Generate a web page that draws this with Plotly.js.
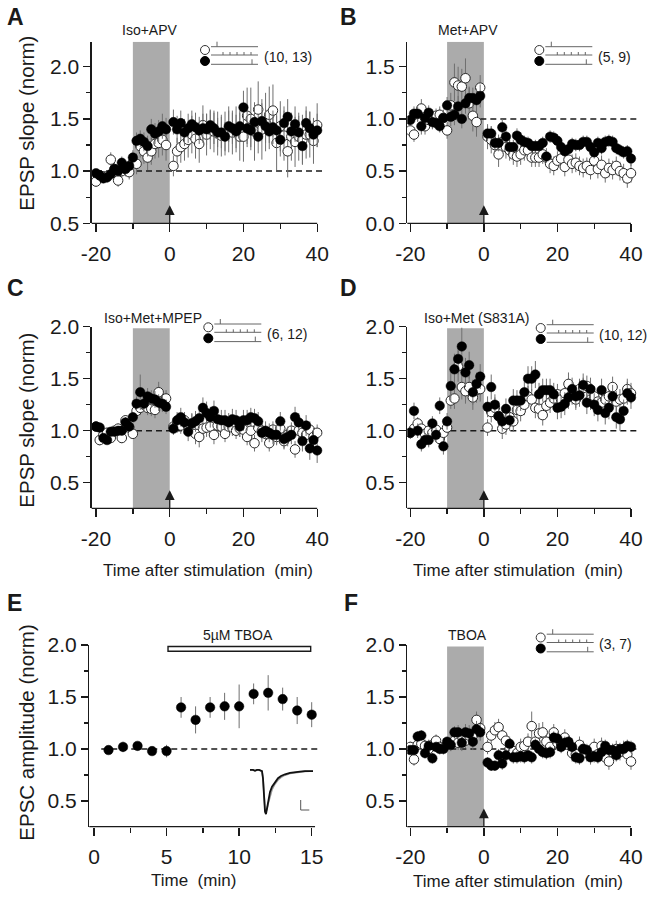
<!DOCTYPE html>
<html><head><meta charset="utf-8">
<script src="https://cdn.plot.ly/plotly-3.0.1.min.js"></script>
<style>html,body{margin:0;padding:0;background:#fff}#chart{width:647px;height:899px}</style>
</head><body><div id="chart"></div>
<script>
// ---------------- data ----------------
const minutes = [-20,-19,-18,-17,-16,-15,-14,-13,-12,-11,-10,-9,-8,-7,-6,-5,-4,-3,-2,-1,
  1,2,3,4,5,6,7,8,9,10,11,12,13,14,15,16,17,18,19,20,21,22,23,24,25,26,27,28,29,30,31,32,33,34,35,36,37,38,39,40];

// Panel A: Iso+APV
const aOpen = [0.90,0.96,0.95,0.95,1.11,1.02,0.91,1.00,1.02,0.99, 1.08,1.07,1.24,1.19,1.13,1.19,1.26,1.27,1.30,1.25,
  1.05,1.19,1.23,1.26,1.30,1.35,1.31,1.26,1.44,1.35, 1.40,1.38,1.36,1.34,1.36,1.40,1.37,1.40,1.33,1.33,
  1.53,1.50,1.38,1.59,1.40,1.47,1.54,1.58,1.27,1.43, 1.34,1.19,1.33,1.28,1.33,1.30,1.35,1.35,1.29,1.44];
const aOpenErr = [0.05,0.05,0.05,0.06,0.07,0.06,0.06,0.06,0.07,0.07, 0.08,0.10,0.11,0.12,0.12,0.13,0.14,0.14,0.15,0.15,
  0.10,0.13,0.15,0.16,0.17,0.18,0.19,0.18,0.19,0.20, 0.19,0.20,0.21,0.20,0.21,0.22,0.21,0.22,0.23,0.24,
  0.27,0.30,0.28,0.27,0.29,0.28,0.27,0.25,0.26,0.24, 0.24,0.25,0.23,0.24,0.23,0.24,0.23,0.22,0.22,0.21];
const aFilled = [0.98,0.96,0.93,0.94,0.97,1.02,1.00,1.08,1.02,1.05, 1.13,1.29,1.31,1.28,1.24,1.40,1.36,1.38,1.43,1.40,
  1.47,1.40,1.46,1.37,1.41,1.45,1.42,1.39,1.41,1.40, 1.44,1.41,1.37,1.37,1.33,1.43,1.41,1.38,1.43,1.61,
  1.41,1.39,1.47,1.33,1.48,1.43,1.38,1.42,1.39,1.30, 1.46,1.52,1.38,1.45,1.37,1.24,1.46,1.41,1.35,1.39];
const aFilledErr = [0.04,0.05,0.04,0.04,0.05,0.05,0.05,0.06,0.05,0.06, 0.07,0.08,0.08,0.09,0.10,0.10,0.10,0.11,0.12,0.11,
  0.12,0.13,0.12,0.13,0.14,0.13,0.14,0.13,0.14,0.15, 0.14,0.15,0.14,0.15,0.14,0.15,0.15,0.16,0.15,0.16,
  0.18,0.16,0.17,0.16,0.17,0.16,0.17,0.16,0.17,0.16, 0.16,0.17,0.16,0.17,0.16,0.17,0.16,0.16,0.15,0.16];

// Panel B: Met+APV
const bOpen = [0.89,0.85,1.05,1.10,0.93,0.99,0.98,1.03,1.04,1.01, 0.89,1.13,1.35,1.32,1.31,1.39,1.15,1.03,0.97,1.30,
  0.83,0.80,0.75,0.66,0.78,0.73,0.70,0.66,0.64,0.66, 0.70,0.70,0.63,0.63,0.63,0.66,0.63,0.57,0.55,0.60,
  0.62,0.54,0.61,0.57,0.58,0.55,0.53,0.55,0.51,0.60, 0.52,0.56,0.48,0.53,0.51,0.55,0.50,0.48,0.43,0.48];
const bOpenErr = [0.06,0.07,0.08,0.09,0.08,0.08,0.08,0.07,0.08,0.08, 0.08,0.12,0.18,0.18,0.17,0.19,0.16,0.15,0.14,0.12,
  0.12,0.13,0.12,0.12,0.11,0.11,0.10,0.10,0.10,0.10, 0.10,0.10,0.09,0.09,0.09,0.09,0.09,0.09,0.09,0.09,
  0.09,0.09,0.09,0.09,0.09,0.09,0.09,0.08,0.09,0.09, 0.09,0.09,0.09,0.09,0.09,0.09,0.09,0.09,0.09,0.09];
const bFilled = [0.99,1.05,1.05,0.93,1.01,1.06,0.97,0.96,0.93,1.01, 1.13,1.02,1.04,1.12,1.00,1.15,1.20,1.20,1.18,1.22,
  0.86,0.86,0.77,0.77,0.92,0.83,0.73,0.73,0.84,0.80, 0.78,0.77,0.74,0.74,0.74,0.77,0.64,0.83,0.82,0.79,
  0.73,0.69,0.71,0.76,0.75,0.75,0.78,0.78,0.73,0.68, 0.77,0.72,0.78,0.79,0.78,0.72,0.70,0.68,0.69,0.62];
const bFilledErr = [0.06,0.07,0.07,0.08,0.07,0.07,0.06,0.06,0.06,0.07, 0.08,0.09,0.10,0.10,0.09,0.10,0.10,0.10,0.11,0.11,
  0.07,0.07,0.07,0.08,0.08,0.08,0.07,0.07,0.07,0.07, 0.06,0.06,0.06,0.06,0.06,0.06,0.06,0.06,0.06,0.06,
  0.06,0.06,0.06,0.06,0.06,0.06,0.06,0.06,0.06,0.06, 0.06,0.06,0.06,0.06,0.06,0.06,0.06,0.06,0.06,0.07];

// Panel C: Iso+Met+MPEP
const cOpen = [1.04,0.91,0.96,0.98,0.93,1.00,1.02,0.93,1.10,1.03, 0.97,1.19,1.22,1.25,1.22,1.21,1.20,1.37,1.28,1.31,
  1.04,1.06,1.05,1.10,1.04,1.07,0.97,0.94,1.02,1.03, 1.04,0.96,1.05,1.04,0.97,1.04,1.03,1.00,1.02,1.01,
  0.94,1.00,0.88,1.03,1.00,0.97,0.88,1.01,0.94,1.02, 0.90,0.96,1.00,0.82,1.00,0.98,0.96,1.01,0.94,0.98];
const cOpenErr = [0.05,0.05,0.05,0.05,0.05,0.05,0.05,0.05,0.05,0.05, 0.05,0.06,0.07,0.07,0.07,0.07,0.08,0.10,0.08,0.08,
  0.07,0.08,0.08,0.08,0.09,0.09,0.10,0.10,0.09,0.09, 0.09,0.09,0.09,0.09,0.08,0.08,0.08,0.08,0.08,0.08,
  0.08,0.08,0.08,0.08,0.08,0.08,0.08,0.08,0.08,0.08, 0.08,0.08,0.08,0.08,0.08,0.08,0.08,0.08,0.08,0.08];
const cFilled = [1.04,1.03,0.93,0.91,0.99,0.99,1.00,1.00,1.08,1.04, 1.13,1.26,1.37,1.26,1.33,1.31,1.30,1.27,1.26,1.23,
  1.02,1.10,1.13,1.08,0.99,1.07,1.09,1.12,1.22,1.17, 1.13,1.19,1.11,1.10,1.10,1.08,1.11,1.10,1.04,1.10,
  1.10,1.13,1.12,1.09,0.98,1.00,0.98,0.96,0.96,1.09, 0.92,0.94,0.96,1.13,1.08,0.90,1.05,0.83,0.91,0.81];
const cFilledErr = [0.04,0.05,0.04,0.04,0.04,0.04,0.04,0.04,0.05,0.05, 0.05,0.07,0.17,0.08,0.08,0.08,0.08,0.08,0.08,0.07,
  0.06,0.08,0.09,0.08,0.09,0.10,0.10,0.10,0.10,0.11, 0.10,0.10,0.10,0.10,0.10,0.09,0.10,0.10,0.10,0.10,
  0.10,0.09,0.09,0.09,0.09,0.09,0.09,0.09,0.09,0.09, 0.09,0.09,0.09,0.10,0.09,0.10,0.10,0.11,0.12,0.12];

// Panel D: Iso+Met (S831A)
const dOpen = [0.98,1.02,1.07,1.02,0.97,1.00,0.98,1.01,0.92,0.98, 1.03,1.29,1.31,1.62,1.42,1.38,1.42,1.32,1.39,1.40,
  1.03,1.18,1.22,1.14,1.02,1.06,1.13,1.09,1.20,1.19, 1.25,1.33,1.30,1.22,1.21,1.15,1.24,1.27,1.31,1.35,
  1.30,1.36,1.45,1.35,1.30,1.40,1.41,1.43,1.30,1.33, 1.28,1.27,1.30,1.33,1.42,1.28,1.30,1.31,1.40,1.36];
const dOpenErr = [0.05,0.06,0.06,0.06,0.06,0.06,0.06,0.06,0.06,0.06, 0.06,0.08,0.10,0.15,0.12,0.12,0.12,0.12,0.12,0.12,
  0.08,0.10,0.10,0.10,0.10,0.10,0.10,0.10,0.10,0.10, 0.10,0.10,0.10,0.10,0.10,0.10,0.10,0.10,0.10,0.10,
  0.10,0.10,0.11,0.10,0.10,0.10,0.10,0.10,0.10,0.10, 0.10,0.10,0.10,0.10,0.10,0.10,0.10,0.10,0.10,0.10];
const dFilled = [0.98,1.19,1.00,0.87,0.91,0.91,1.07,0.96,1.24,0.85, 1.09,1.43,1.59,1.69,1.81,1.56,1.63,1.37,1.45,1.52,
  1.23,1.42,1.25,1.14,1.09,1.21,1.10,1.29,1.29,1.29, 1.37,1.50,1.50,1.54,1.35,1.39,1.39,1.39,1.35,1.22,
  1.23,1.26,1.32,1.40,1.33,1.34,1.44,1.27,1.40,1.25, 1.20,1.39,1.17,1.22,1.33,1.13,1.11,1.19,1.36,1.32];
const dFilledErr = [0.06,0.08,0.07,0.07,0.07,0.07,0.07,0.07,0.08,0.08, 0.08,0.15,0.15,0.15,0.18,0.14,0.13,0.12,0.11,0.12,
  0.10,0.12,0.10,0.10,0.10,0.10,0.10,0.11,0.10,0.10, 0.10,0.12,0.12,0.13,0.11,0.11,0.11,0.11,0.11,0.11,
  0.11,0.11,0.11,0.11,0.11,0.11,0.11,0.11,0.11,0.11, 0.11,0.11,0.11,0.11,0.11,0.11,0.11,0.11,0.11,0.11];

// Panel E: 5µM TBOA, EPSC amplitude
const eMinutes = [1,2,3,4,5,6,7,8,9,10,11,12,13,14,15];
const eAmp = [0.99,1.02,1.03,0.98,0.98,1.40,1.28,1.40,1.41,1.41,1.53,1.54,1.48,1.37,1.33];
const eErr = [0.03,0.05,0.02,0.04,0.06,0.10,0.13,0.10,0.13,0.21,0.10,0.17,0.11,0.13,0.12];
// Inset EPSC traces (ms, normalised current)
const insetMs = [0,3,5,7,9,11,12,13,14,15,16,17,18,20,22,25,28,31,35,40,45,50,55,60,63];
const insetBaseline = [0,0,-2,0,0,-2,-3,-20,-65,-95,-100,-88,-70,-50,-38,-27,-19,-14,-10,-7,-5,-4,-3,-3,-3];
const insetTBOA = [0,0,-2,0,0,-2,-3,-18,-60,-88,-93,-90,-78,-58,-45,-32,-23,-17,-12,-8,-6,-4.5,-3.5,-3,-3];

// Panel F: TBOA
const fOpen = [1.02,0.90,1.04,1.05,1.03,1.00,1.04,1.08,1.02,1.01, 1.04,1.05,1.08,1.06,1.12,1.08,1.13,1.13,1.28,1.20,
  1.02,1.13,1.18,1.21,1.13,1.08,1.00,0.98,0.96,1.02, 1.03,1.07,1.22,1.07,1.15,1.16,1.07,1.02,1.16,1.06,
  1.05,1.11,1.04,0.96,0.95,1.04,1.00,0.96,0.93,1.02, 0.95,1.03,0.92,0.88,0.97,1.00,0.97,1.00,0.95,0.88];
const fOpenErr = [0.05,0.06,0.06,0.06,0.06,0.06,0.06,0.06,0.06,0.06, 0.06,0.07,0.07,0.07,0.07,0.07,0.07,0.07,0.08,0.08,
  0.07,0.08,0.08,0.08,0.08,0.08,0.08,0.08,0.08,0.08, 0.08,0.08,0.14,0.10,0.10,0.10,0.10,0.08,0.08,0.08,
  0.08,0.08,0.08,0.08,0.08,0.08,0.08,0.08,0.08,0.08, 0.08,0.08,0.08,0.08,0.08,0.08,0.08,0.08,0.08,0.08];
const fFilled = [0.99,0.99,1.12,1.13,0.96,1.03,0.91,1.02,1.00,1.00, 1.07,1.04,1.16,1.16,1.06,1.16,1.15,1.07,1.19,1.16,
  0.87,0.84,0.84,0.94,0.86,0.94,1.05,0.92,0.92,0.93, 0.92,0.94,0.92,1.04,1.00,0.97,0.96,0.97,1.11,1.10,
  1.02,1.06,1.07,1.02,0.92,0.91,1.00,0.99,0.92,0.93, 0.92,0.97,1.03,0.99,0.99,0.94,1.00,1.00,1.03,1.02];
const fFilledErr = [0.04,0.05,0.05,0.05,0.05,0.06,0.05,0.05,0.05,0.05, 0.05,0.06,0.06,0.07,0.08,0.08,0.08,0.08,0.08,0.08,
  0.05,0.05,0.05,0.06,0.06,0.06,0.07,0.06,0.06,0.06, 0.06,0.06,0.06,0.06,0.06,0.06,0.06,0.06,0.06,0.06,
  0.06,0.06,0.06,0.06,0.06,0.06,0.06,0.06,0.06,0.06, 0.06,0.06,0.06,0.06,0.06,0.06,0.06,0.06,0.06,0.06];

// tick labels
const timeTicks = [-20,0,20,40];
const timeTickText = ['-20','0','20','40'];
const timeMinor = [-10,10,30];
const eTicks = [0,5,10,15];
const eMinor = [2.5,7.5,12.5];

// ---------------- layout helpers ----------------
const W = 647, H = 899;
const FONT = 'Liberation Sans, Arial, Helvetica, sans-serif';
const INK = '#1a1a1a';
const px = p => p / W;
const py = p => 1 - p / H;

const panels = [
  {s:'',  box:[91.7,326.2,41.7,223.3],  xr:[-21.17,42.45], yr:[0.5,2.24], yt:[0.5,1,1.5,2], ym:[0.75,1.25,1.75], xEnd:40, box1:2.24},
  {s:'2', box:[407.3,640,41.7,223.3],   xr:[-20.82,42.45], yr:[0,1.74],   yt:[0,0.5,1,1.5], ym:[0.25,0.75,1.25], xEnd:40, box1:1.74},
  {s:'3', box:[91.7,326.2,326.7,508.3], xr:[-21.17,42.45], yr:[0.254,2.0], yt:[0.5,1,1.5,2], ym:[0.75,1.25,1.75], xEnd:40, box1:1.985},
  {s:'4', box:[407.3,640,326.7,508.3],  xr:[-20.82,42.45], yr:[0.254,2.0], yt:[0.5,1,1.5,2], ym:[0.75,1.25,1.75], xEnd:40, box1:1.985},
  {s:'5', box:[89.3,322,645,826.7],     xr:[-0.324,15.71], yr:[0.253,2.0], yt:[0.5,1,1.5,2], ym:[0.75,1.25,1.75], xEnd:15.23, e:true},
  {s:'6', box:[407.3,640,645,826.7],    xr:[-20.82,42.45], yr:[0.253,2.0], yt:[0.5,1,1.5,2], ym:[0.75,1.25,1.75], xEnd:40, box1:1.985}
];

const layout = {
  width: W, height: H, margin:{l:0,r:0,t:0,b:0},
  paper_bgcolor:'#fff', plot_bgcolor:'rgba(0,0,0,0)',
  showlegend:false, font:{family:FONT, color:INK},
  shapes:[], annotations:[]
};

const tickfont = {family:FONT, size:21, color:INK};
panels.forEach(p => {
  const xa = 'xaxis' + p.s, ya = 'yaxis' + p.s;
  layout[xa] = {
    domain:[px(p.box[0]), px(p.box[1])], range:p.xr, anchor:'y'+p.s,
    showline:false, showgrid:false, zeroline:false, fixedrange:true,
    ticks:'outside', ticklen:8, tickwidth:1.3, tickcolor:INK,
    tickmode:'array',
    tickvals: p.e ? eTicks : timeTicks,
    ticktext: p.e ? eTicks.map(String) : timeTickText,
    minor:{tickmode:'array', tickvals: p.e ? eMinor : timeMinor, ticks:'outside', ticklen:5, tickwidth:1.3, tickcolor:INK, showgrid:false},
    tickfont, ticklabelstandoff:3
  };
  layout[ya] = {
    domain:[py(p.box[3]), py(p.box[2])], range:p.yr, anchor:'x'+p.s,
    showline:true, linecolor:INK, linewidth:1.3,
    showgrid:false, zeroline:false, fixedrange:true,
    ticks:'outside', ticklen:7, tickwidth:1.3, tickcolor:INK,
    tickmode:'array', tickvals:p.yt, ticktext:p.yt.map(v => v.toFixed(1)),
    minor:{tickmode:'array', tickvals:p.ym, ticks:'outside', ticklen:4, tickwidth:1.3, tickcolor:INK, showgrid:false},
    tickfont
  };
  const xr = 'x' + p.s, yr = 'y' + p.s;
  const xEndPx = p.box[0] + (p.xEnd - p.xr[0]) / (p.xr[1] - p.xr[0]) * (p.box[1] - p.box[0]);
  layout.shapes.push({type:'line', xref:'paper', yref:'paper', x0:px(p.box[0]), x1:px(xEndPx), y0:py(p.box[3]), y1:py(p.box[3]), line:{color:INK, width:1.3}, layer:'above'});
  if (!p.e) {
    layout.shapes.push({type:'rect', xref:xr, yref:yr, x0:-10, x1:0, y0:p.yr[0], y1:p.box1, fillcolor:'#ababab', line:{width:0}, layer:'below'});
    layout.shapes.push({type:'line', xref:xr, yref:yr, x0:-20, x1:42, y0:1, y1:1, line:{color:INK, width:1.5, dash:'6px,4px'}, layer:'below'});
    // stimulation arrow: shaft + head
    layout.shapes.push({type:'line', xref:xr, yref:yr+' domain', x0:0, x1:0, y0:0, y1:0.085, line:{color:INK, width:1.3}, layer:'above'});
    layout.annotations.push({xref:xr, yref:yr+' domain', x:0, y:0.1, ax:0, ay:8, text:'', font:{size:1}, borderpad:0, showarrow:true, arrowhead:2, arrowsize:1.5, arrowwidth:1.3, arrowcolor:INK, standoff:0});
  } else {
    layout.shapes.push({type:'line', xref:xr, yref:yr, x0:0.5, x1:15.65, y0:1, y1:1, line:{color:INK, width:1.5, dash:'6px,4px'}, layer:'below'});
    layout.shapes.push({type:'rect', xref:xr, yref:yr, x0:5.1, x1:14.93, y0:1.94, y1:1.985, fillcolor:'#fff', line:{color:INK, width:1.4}, layer:'above'});
  }
});

// inset axes for EPSC traces (panel E)
layout.xaxis7 = {domain:[px(248), px(316)], range:[-2,66], anchor:'y7', visible:false, fixedrange:true};
layout.yaxis7 = {domain:[py(818), py(765)], range:[-109,11], anchor:'x7', visible:false, fixedrange:true};
// scale bar
layout.shapes.push({type:'line', xref:'paper', yref:'paper', x0:px(300.7), x1:px(300.7), y0:py(800), y1:py(810), line:{color:'#555', width:1}});
layout.shapes.push({type:'line', xref:'paper', yref:'paper', x0:px(300.7), x1:px(309.3), y0:py(810), y1:py(810), line:{color:'#555', width:1}});

// stimulation-protocol legend glyphs
function legendGlyph(cx, cy, label) {
  const r = 4.5, lc = '#666';
  layout.shapes.push({type:'circle', xref:'paper', yref:'paper', x0:px(cx-r), x1:px(cx+r), y0:py(cy+r), y1:py(cy-r), fillcolor:'#fff', line:{color:'#333', width:1}, layer:'above'});
  layout.shapes.push({type:'circle', xref:'paper', yref:'paper', x0:px(cx-r), x1:px(cx+r), y0:py(cy+11+r), y1:py(cy+11-r), fillcolor:'#000', line:{color:'#000', width:1}, layer:'above'});
  const L = cx + 6, R = cx + 53;
  const seg = (x0,y0,x1,y1) => layout.shapes.push({type:'line', xref:'paper', yref:'paper', x0:px(x0), x1:px(x1), y0:py(y0), y1:py(y1), line:{color:lc, width:1}, layer:'above'});
  seg(L, cy-3.3, R, cy-3.3); seg(cx+12, cy-3.3, cx+12, cy-8.3);
  seg(L, cy+5, R, cy+5);
  [18,25,32,39,46].forEach(d => seg(cx+d, cy+5, cx+d, cy+2));
  seg(L, cy+14.3, R, cy+14.3); seg(cx+47, cy+14.3, cx+47, cy+9.3);
  layout.annotations.push({xref:'paper', yref:'paper', x:px(cx+56.5), y:py(cy+6.5), xanchor:'left', yanchor:'middle', text:label, showarrow:false, font:{family:FONT, size:14, color:INK}});
}
legendGlyph(205, 50, '(10, 13)');
legendGlyph(539.3, 50, '(5, 9)');
legendGlyph(208.3, 327.3, '(6, 12)');
legendGlyph(540.7, 328, '(10, 12)');
legendGlyph(540.7, 637.5, '(3, 7)');

// text annotations
function txt(x, y, t, size, extra) {
  layout.annotations.push(Object.assign({xref:'paper', yref:'paper', x:px(x), y:py(y), xanchor:'center', yanchor:'middle', text:t, showarrow:false, font:{family:FONT, size:size, color:INK}}, extra||{}));
}
txt(15.3, 17.2, '<b>A</b>', 23); txt(348.3, 17.2, '<b>B</b>', 23);
txt(15, 288, '<b>C</b>', 23);     txt(348.3, 288, '<b>D</b>', 23);
txt(14.5, 603.3, '<b>E</b>', 23); txt(350.5, 603.3, '<b>F</b>', 23);
txt(150, 30, 'Iso+APV', 14);
txt(468, 30, 'Met+APV', 14);
txt(152.5, 318.3, 'Iso+Met+MPEP', 14);
txt(476, 318.3, 'Iso+Met (S831A)', 14);
txt(238.3, 635, '5µM TBOA', 14);
txt(467, 635, 'TBOA', 14);
txt(25.7, 123, 'EPSP slope (norm)', 20.5, {textangle:-90});
txt(25.7, 420, 'EPSP slope (norm)', 20.5, {textangle:-90});
txt(25.7, 733, 'EPSC amplitude (norm)', 20.5, {textangle:-90});
txt(208.3, 570, 'Time after stimulation&nbsp; (min)', 17);
txt(518.3, 570, 'Time after stimulation&nbsp; (min)', 17);
txt(193.3, 880, 'Time&nbsp; (min)', 17);
txt(518.3, 881, 'Time after stimulation&nbsp; (min)', 17);

// ---------------- traces ----------------
const errStyle = arr => ({type:'data', array:arr, visible:true, color:'#6f6f6f', thickness:1, width:0});
const openMarker = {symbol:'circle', size:9.5, color:'#fff', line:{color:'#2a2a2a', width:1}};
const filledMarker = {symbol:'circle', size:9.5, color:'#000', line:{color:'#000', width:0.5}};
function pair(s, openY, openE, filledY, filledE) {
  return [
    {type:'scatter', mode:'markers', x:minutes, y:openY, error_y:errStyle(openE), marker:openMarker, xaxis:'x'+s, yaxis:'y'+s, hoverinfo:'skip'},
    {type:'scatter', mode:'markers', x:minutes, y:filledY, error_y:errStyle(filledE), marker:filledMarker, xaxis:'x'+s, yaxis:'y'+s, hoverinfo:'skip'}
  ];
}
const data = [].concat(
  pair('', aOpen, aOpenErr, aFilled, aFilledErr),
  pair('2', bOpen, bOpenErr, bFilled, bFilledErr),
  pair('3', cOpen, cOpenErr, cFilled, cFilledErr),
  pair('4', dOpen, dOpenErr, dFilled, dFilledErr),
  [{type:'scatter', mode:'markers', x:eMinutes, y:eAmp, error_y:errStyle(eErr), marker:filledMarker, xaxis:'x5', yaxis:'y5', hoverinfo:'skip'}],
  pair('6', fOpen, fOpenErr, fFilled, fFilledErr),
  [{type:'scatter', mode:'lines', x:insetMs, y:insetTBOA, line:{color:'#9a9a9a', width:1.6}, xaxis:'x7', yaxis:'y7', hoverinfo:'skip'},
   {type:'scatter', mode:'lines', x:insetMs, y:insetBaseline, line:{color:'#111', width:1.8}, xaxis:'x7', yaxis:'y7', hoverinfo:'skip'}]
);

Plotly.newPlot('chart', data, layout, {displayModeBar:false, staticPlot:true});
</script>
</body></html>
